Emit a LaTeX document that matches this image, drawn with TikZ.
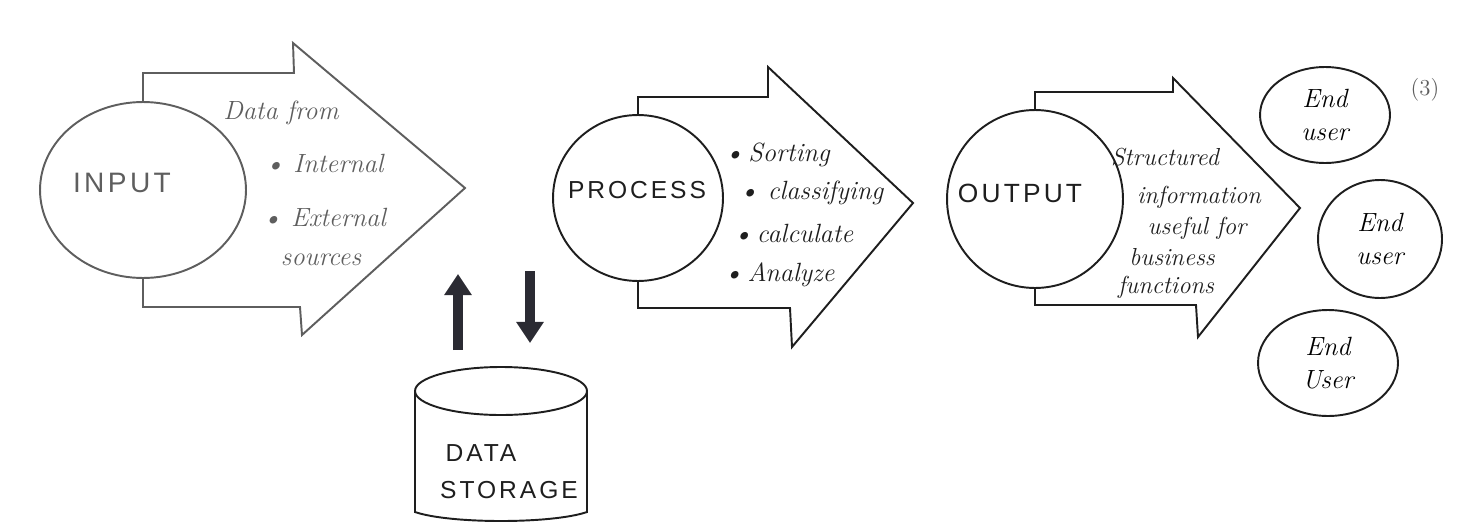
\documentclass[tikz,border=0pt]{standalone}
\usepackage{fontspec}
\newfontfamily\capsfont[LetterSpace=12]{Liberation Sans}
\usetikzlibrary{shapes.geometric,arrows.meta}
\definecolor{pencil}{HTML}{5E5E5E}
\definecolor{ink}{HTML}{1E1E1E}
\definecolor{marker}{HTML}{2B2B33}
\begin{document}
\begin{tikzpicture}[x=0.02cm,y=-0.02cm,
  blob/.style={ellipse,draw,line width=1.1pt,inner sep=0pt},
  blockarrow/.style={line width=1.1pt,line join=miter},
  hand/.style={font=\fontsize{15}{17}\selectfont\itshape,inner sep=1pt},
  handsm/.style={font=\fontsize{14}{16}\selectfont\itshape,inner sep=1pt},
  enduser/.style={font=\fontsize{15}{19}\selectfont\itshape,align=center},
  capslab/.style={font=\capsfont\fontsize{14}{16}\selectfont,inner sep=1pt},
  fat/.style={line width=6pt,-{Triangle[length=12pt,width=15pt]},draw=marker}
]
\useasboundingbox (0,0) rectangle (1474,531);

% ---------- INPUT ----------
\node[blob,draw=pencil,minimum width=4.12cm,minimum height=3.52cm] (inp) at (143,190) {};
\node[capslab,text=pencil,font=\capsfont\fontsize{16}{18}\selectfont] (inlab) at (122,183) {INPUT};
\draw[blockarrow,pencil] (inp.north) |- (294,73) -- (293,43) -- (465,188) -- (302,335) -- (300,307) -| (inp.south);
\node[hand,text=pencil] (in1) at (281,113) {Data from};
\node[hand,text=pencil] (in2) at (324,163) {\textbullet\ Internal};
\node[hand,text=pencil] (in3) at (324,217) {\textbullet\ External};
\node[hand,text=pencil] (in4) at (321,260) {sources};

% ---------- PROCESS ----------
\node[blob,draw=ink,minimum width=3.4cm,minimum height=3.32cm] (proc) at (638,198) {};
\node[capslab,text=ink] (proclab) at (637,190) {PROCESS};
\draw[blockarrow,ink] (proc.north) |- (768,97) -- (768,67) -- (913,203) -- (792,347) -- (790,308) -| (proc.south);
\node[hand,text=ink] (p1) at (777,155) {\textbullet\,Sorting};
\node[hand,text=ink] (p2) at (811,193) {\textbullet\ classifying};
\node[hand,text=ink] (p3) at (793,233) {\textbullet\,calculate};
\node[hand,text=ink] (p4) at (779,275) {\textbullet\,Analyze};

% ---------- OUTPUT ----------
\node[blob,draw=ink,minimum width=3.52cm,minimum height=3.56cm] (out) at (1035,199) {};
\node[capslab,text=ink,font=\capsfont\fontsize{15}{17}\selectfont] (outlab) at (1020,193) {OUTPUT};
\draw[blockarrow,ink] (out.north) |- (1173,92) -- (1173,78) -- (1300,208) -- (1198,337) -- (1196,305) -| (out.south);
\node[handsm,text=ink] (o1) at (1165,157) {Structured};
\node[handsm,text=ink] (o2) at (1199,197) {information};
\node[handsm,text=ink] (o3) at (1197,228) {useful for};
\node[handsm,text=ink] (o4) at (1172,257) {business};
\node[handsm,text=ink] (o5) at (1166,287) {functions};

% ---------- END USERS ----------
\node[blob,draw=ink,minimum width=2.6cm,minimum height=1.92cm,enduser] (eu1) at (1325,115) {End\\user};
\node[blob,draw=ink,minimum width=2.48cm,minimum height=2.36cm,enduser] (eu2) at (1380,239) {End\\user};
\node[blob,draw=ink,minimum width=2.8cm,minimum height=2.12cm,enduser] (eu3) at (1328,363) {End\\User};
\node[font=\fontsize{13}{15}\selectfont,text=pencil] (three) at (1425,90) {(3)};

% ---------- DATA STORAGE ----------
\draw[ink,line width=1.1pt] (501,391) ellipse [x radius=86, y radius=24];
\draw[ink,line width=1.1pt] (415,391) -- (415,512) .. controls (450,524) and (552,524) .. (587,512) -- (587,391);
\node[capslab,text=ink] (ds1) at (481,453) {DATA};
\node[capslab,text=ink] (ds2) at (509,490) {STORAGE};

% ---------- thick arrows ----------
\coordinate (ua) at (458,350);
\coordinate (ub) at (458,274);
\coordinate (da) at (530,271);
\coordinate (db) at (530,343);
\draw[fat] (ua) -- (ub);
\draw[fat] (da) -- (db);
\end{tikzpicture}
\end{document}
